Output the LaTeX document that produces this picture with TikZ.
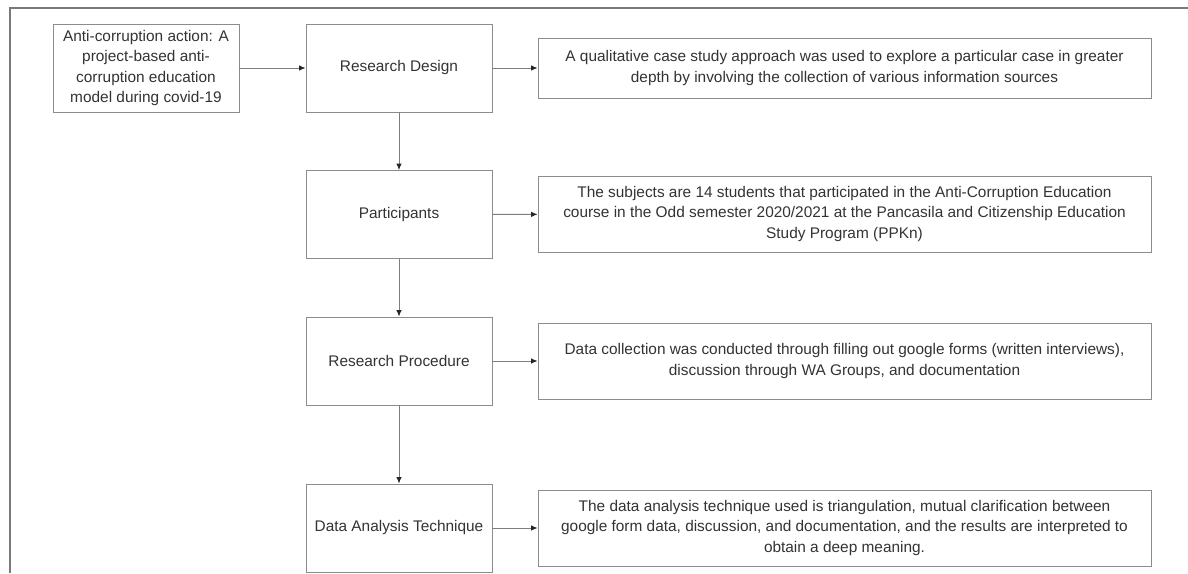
\documentclass[tikz,border=0pt]{standalone}
\usepackage{fontspec}
\setmainfont{Liberation Sans}
\usetikzlibrary{arrows.meta}
\definecolor{boxline}{HTML}{8C8C8C}
\definecolor{txt}{HTML}{333333}
\definecolor{frameline}{HTML}{7A7A7A}
\definecolor{arrowline}{HTML}{7E7E7E}
\tikzset{
  base/.style={draw=boxline, line width=0.9pt, text=txt, align=center, inner sep=0pt,
    font=\fontsize{15.4}{20.5}\selectfont},
  leftbox/.style={base, minimum width=186pt, minimum height=88pt},
  rightbox/.style={base, minimum width=613pt},
  conn/.style={draw=arrowline, line width=0.9pt, -{Latex[length=6.5pt,width=5.5pt,color=black!85]}},
}
\begin{document}
\begin{tikzpicture}[x=1pt,y=-1pt]
\useasboundingbox (0,0) rectangle (1188,573);
\fill[white] (0,0) rectangle (1188,573);
% frame
\coordinate (ftr) at (1188,8);
\coordinate (ftl) at (10,8);
\coordinate (fbl) at (10,573);
\draw[frameline, line width=1.8pt] (ftr) -- (ftl) -- (fbl);

\node[leftbox] (topic) at (146,68) {Anti-corruption action: A\\project-based anti-\\corruption education\\model during covid-19};
\node[leftbox] (design) at (399,68) {Research Design};
\node[leftbox] (part) at (399,214.5) {Participants};
\node[leftbox] (proc) at (399,361) {Research Procedure};
\node[leftbox] (anal) at (399,528) {Data Analysis Technique};

\node[rightbox, minimum height=60pt] (d1) at (844.5,68) {A qualitative case study approach was used to explore a particular case in greater\\depth by involving the collection of various information sources};
\node[rightbox, minimum height=76pt] (d2) at (844.5,214) {The subjects are 14 students that participated in the Anti-Corruption Education\\course in the Odd semester 2020/2021 at the Pancasila and Citizenship Education\\Study Program (PPKn)};
\node[rightbox, minimum height=76pt] (d3) at (844.5,361) {Data collection was conducted through filling out google forms (written interviews),\\discussion through WA Groups, and documentation};
\node[rightbox, minimum height=76pt] (d4) at (844.5,528) {The data analysis technique used is triangulation, mutual clarification between\\google form data, discussion, and documentation, and the results are interpreted to\\obtain a deep meaning.};

\draw[conn] (topic) -- (design);
\draw[conn] (design) -- (d1);
\draw[conn] (part) -- (d2);
\draw[conn] (proc) -- (d3);
\draw[conn] (anal) -- (d4);
\draw[conn] (design) -- (part);
\draw[conn] (part) -- (proc);
\draw[conn] (proc) -- (anal);
\end{tikzpicture}
\end{document}
